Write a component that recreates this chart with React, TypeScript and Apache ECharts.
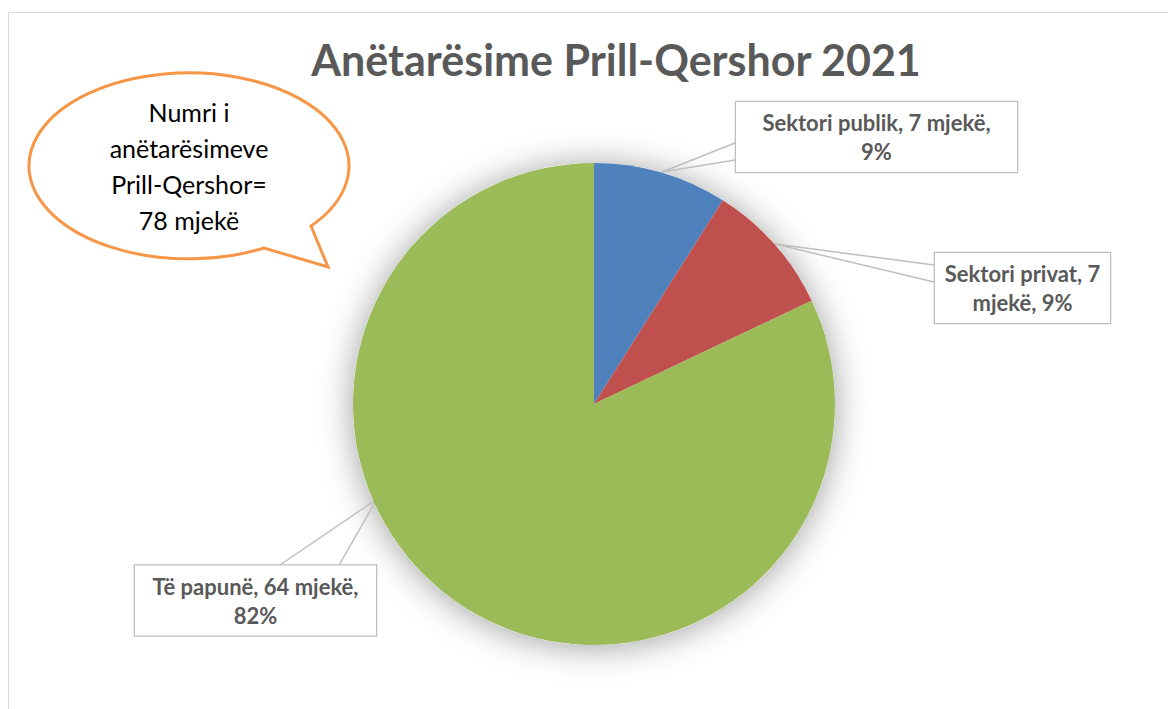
import React, { useEffect, useRef } from "react";
import * as echarts from "echarts";

const TITLE = "Anëtarësime Prill-Qershor 2021";
const categories = ["Sektori publik", "Sektori privat", "Të papunë"];
const values = [7, 7, 64];
const colors = ["#4F81BD", "#C0504D", "#9BBB59"];
const unit = "mjekë";
const wordsOnFirstLine = [4, 3, 4];
const bubbleLines = ["Numri i", "anëtarësimeve", "Prill-Qershor="];

// label box geometry (annotation layout only)
const boxes = [
  { cx: 876.5, cy: 137, w: 283, tip: [662, 172], a: [735, 143], b: [735, 160] },
  { cx: 1022.5, cy: 288, w: 177, tip: [775, 244], a: [934, 265], b: [934, 282] },
  { cx: 255.5, cy: 600.5, w: 243, tip: [377, 499], a: [277, 567], b: [338, 567] },
];

const bubblePath =
  "M 311 226 L 328 267 L 264 248 A 160 93 0 1 1 311 226 Z";

export default function App() {
  const ref = useRef<HTMLDivElement>(null);
  useEffect(() => {
    if (!ref.current) return;
    try {
      echarts.graphic.registerShape(
        "bubble",
        echarts.graphic.extendPath(bubblePath, {}) as any
      );
    } catch (e) {}
    const chart = echarts.init(ref.current, null, { renderer: "svg" });
    const total = values.reduce((a, b) => a + b, 0);
    const font = "Lato";
    chart.setOption({
      animation: false,
      backgroundColor: "#fff",
      title: {
        text: TITLE,
        left: 611,
        textAlign: "center",
        top: 33,
        textStyle: { fontFamily: font, fontWeight: "bold", fontSize: 43, color: "#595959" },
      },
      graphic: [
        {
          type: "rect",
          shape: { x: 8.5, y: 12.5, width: 1300, height: 900 },
          style: { fill: "none", stroke: "#D9D9D9", lineWidth: 1 },
          silent: true,
          z: 0,
        },
        {
          type: "bubble",
          x: 0,
          y: 0,
          scaleX: 1,
          scaleY: 1,
          style: { fill: "#fff", stroke: "#F79646", lineWidth: 3 },
          z: 10,
        },
        {
          type: "text",
          x: 189,
          y: 166,
          z: 11,
          style: {
            text: [...bubbleLines, `${total} ${unit}`].join("\n"),
            fontFamily: font,
            fontSize: 25,
            lineHeight: 36,
            fill: "#000",
            align: "center",
            verticalAlign: "middle",
          },
        },
      ],
      series: [
        {
          type: "pie",
          center: [594, 404],
          radius: 241,
          silent: true,
          z: 1,
          label: { show: false },
          labelLine: { show: false },
          itemStyle: {
            color: "#fff",
            shadowBlur: 34,
            shadowColor: "rgba(0,0,0,0.38)",
            shadowOffsetX: 0,
            shadowOffsetY: 2,
          },
          data: [{ value: 1, name: "" }],
        },
        {
          type: "pie",
          center: [594, 404],
          radius: 241,
          startAngle: 90,
          clockwise: true,
          z: 2,
          avoidLabelOverlap: false,
          percentPrecision: 0,
          data: categories.map((c, i) => ({
            name: c,
            value: values[i],
            itemStyle: { color: colors[i] },
            label: { width: boxes[i].w - 10 },
          })),
          label: {
            show: true,
            position: "outside",
            fontFamily: font,
            fontWeight: "bold",
            fontSize: 22,
            lineHeight: 29,
            color: "#595959",
            backgroundColor: "#fff",
            borderColor: "#BFBFBF",
            borderWidth: 1.3,
            padding: [6, 4],
            align: "center",
            overflow: "none",
            formatter: (p: any) => {
              const words = `${p.name}, ${p.value} ${unit}, ${p.percent}%`.split(" ");
              const n = wordsOnFirstLine[p.dataIndex];
              return words.slice(0, n).join(" ") + "\n" + words.slice(n).join(" ");
            },
          },
          labelLine: {
            show: true,
            lineStyle: { color: "#BFBFBF", width: 1.5 },
          },
          labelLayout: (p: any) => {
            const b = boxes[p.dataIndex];
            return {
              x: b.cx,
              y: b.cy,
              align: "center",
              verticalAlign: "middle",
              labelLinePoints: [b.a, b.tip, b.b],
            };
          },
        },
      ],
    });
    return () => chart.dispose();
  }, []);
  return (
    <div
      ref={ref}
      style={{ position: "absolute", left: 0, top: 0, width: 1168, height: 709 }}
    />
  );
}
